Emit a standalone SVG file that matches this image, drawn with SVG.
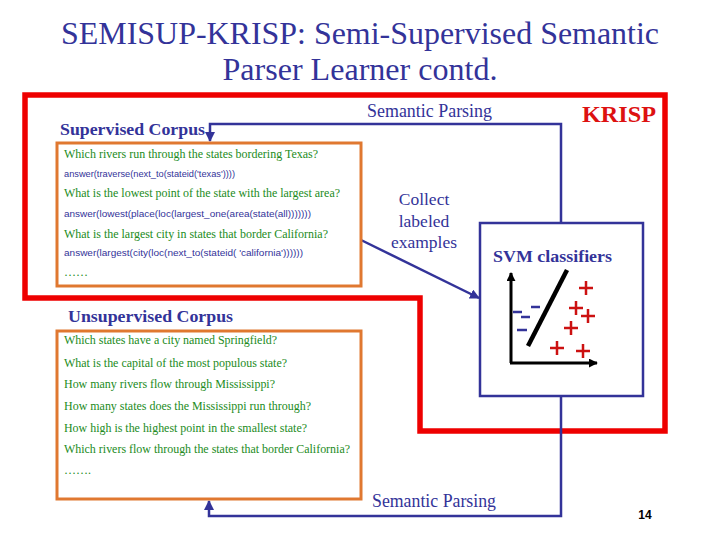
<svg xmlns="http://www.w3.org/2000/svg" width="720" height="540" viewBox="0 0 720 540">
<style>
.serif{font-family:"Liberation Serif","DejaVu Serif","Times New Roman",serif}
.title{font-size:32px;fill:#333399;text-anchor:middle}
.hd{font-size:17px;font-weight:bold;fill:#333399}
.lbl{font-size:18px;fill:#333399}
.col{font-size:17.5px;fill:#333399;text-anchor:middle}
.q{font-size:12px;fill:#228B22}
.lf{font-family:"Liberation Sans",sans-serif;font-size:9.5px;fill:#333399}
.blue{fill:none;stroke:#333399;stroke-width:2.5}
.orange{fill:none;stroke:#e07830;stroke-width:3}
.red{fill:none;stroke:#ee0000;stroke-width:5.5}
.ax{stroke:#000;stroke-width:3;fill:none}
.minus{stroke:#333399;stroke-width:2.5}
.plus{stroke:#cc1111;stroke-width:2.5}
</style>
<defs>
<marker id="ab" viewBox="0 0 10 10" refX="9" refY="5" markerWidth="4" markerHeight="4" orient="auto"><path d="M0,0 L10,5 L0,10 z" fill="#333399"/></marker>
<marker id="ak" viewBox="0 0 10 10" refX="9" refY="5" markerWidth="3" markerHeight="3" orient="auto"><path d="M0,0 L10,5 L0,10 z" fill="#000"/></marker>
</defs>
<rect width="720" height="540" fill="#fff"/>
<text class="serif title" x="360" y="44" textLength="598" lengthAdjust="spacingAndGlyphs">SEMISUP-KRISP: Semi-Supervised Semantic</text>
<text class="serif title" x="360" y="80" textLength="275" lengthAdjust="spacingAndGlyphs">Parser Learner contd.</text>

<g id="krisp">
<polygon class="red" points="25,95 665,95 665,431 420,431 420,298 25,298"/>
<text class="serif" x="582" y="122" font-size="24" font-weight="bold" fill="#dd1111" textLength="74" lengthAdjust="spacingAndGlyphs">KRISP</text>
</g>

<g id="connectors">
<polyline class="blue" points="561,223 561,124 210,124 210,141" marker-end="url(#ab)"/>
<polyline class="blue" points="561,396 561,516 209,516 209,501" marker-end="url(#ab)"/>
<line class="blue" x1="361" y1="240" x2="479" y2="298" marker-end="url(#ab)"/>
<text class="serif lbl" x="367" y="117" textLength="125" lengthAdjust="spacingAndGlyphs">Semantic Parsing</text>
<text class="serif lbl" x="372" y="507" textLength="124" lengthAdjust="spacingAndGlyphs">Semantic Parsing</text>
<text class="serif col" x="424" y="205">Collect</text>
<text class="serif col" x="424" y="227">labeled</text>
<text class="serif col" x="424" y="248">examples</text>
</g>

<g id="supervised">
<text class="serif hd" x="60" y="135" textLength="145" lengthAdjust="spacingAndGlyphs">Supervised Corpus</text>
<rect class="orange" x="57" y="143" width="304" height="143"/>
<text class="serif q" x="64" y="158" textLength="254" lengthAdjust="spacingAndGlyphs">Which rivers run through the states bordering Texas?</text>
<text class="lf" x="64" y="177" textLength="171" lengthAdjust="spacingAndGlyphs">answer(traverse(next_to(stateid('texas'))))</text>
<text class="serif q" x="64" y="197" textLength="276" lengthAdjust="spacingAndGlyphs">What is the lowest point of the state with the largest area?</text>
<text class="lf" x="64" y="217" textLength="247" lengthAdjust="spacingAndGlyphs">answer(lowest(place(loc(largest_one(area(state(all)))))))</text>
<text class="serif q" x="64" y="238" textLength="264" lengthAdjust="spacingAndGlyphs">What is the largest city in states that border California?</text>
<text class="lf" x="64" y="256" textLength="239" lengthAdjust="spacingAndGlyphs">answer(largest(city(loc(next_to(stateid( 'california'))))))</text>
<text class="serif q" x="64" y="276">……</text>
</g>

<g id="unsupervised">
<text class="serif hd" x="68" y="322" textLength="165" lengthAdjust="spacingAndGlyphs">Unsupervised Corpus</text>
<rect class="orange" x="57" y="331" width="304" height="168"/>
<text class="serif q" x="64" y="344" textLength="213" lengthAdjust="spacingAndGlyphs">Which states have a city named Springfield?</text>
<text class="serif q" x="64" y="367" textLength="223" lengthAdjust="spacingAndGlyphs">What is the capital of the most populous state?</text>
<text class="serif q" x="64" y="388" textLength="211" lengthAdjust="spacingAndGlyphs">How many rivers flow through Mississippi?</text>
<text class="serif q" x="64" y="410" textLength="247" lengthAdjust="spacingAndGlyphs">How many states does the Mississippi run through?</text>
<text class="serif q" x="64" y="432" textLength="243" lengthAdjust="spacingAndGlyphs">How high is the highest point in the smallest state?</text>
<text class="serif q" x="64" y="453" textLength="286" lengthAdjust="spacingAndGlyphs">Which rivers flow through the states that border California?</text>
<text class="serif q" x="64" y="474">…….</text>
</g>

<g id="svm">
<rect class="blue" x="480" y="223" width="163" height="173"/>
<text class="serif" x="493" y="262" font-size="16" font-weight="bold" fill="#333399" textLength="119" lengthAdjust="spacingAndGlyphs">SVM classifiers</text>
<line class="ax" x1="511" y1="363" x2="511" y2="273" marker-end="url(#ak)"/>
<line class="ax" x1="510" y1="363" x2="597" y2="363" marker-end="url(#ak)"/>
<line x1="567" y1="270" x2="528" y2="346" stroke="#000" stroke-width="4.5"/>
<line class="minus" x1="513" y1="312" x2="522" y2="312"/>
<line class="minus" x1="521" y1="317" x2="530" y2="317"/>
<line class="minus" x1="531" y1="307" x2="540" y2="307"/>
<line class="minus" x1="517" y1="330" x2="527" y2="330"/>
<path class="plus" d="M579,288 h14 M586,281 v14 M569,308 h14 M576,301 v14 M581,316 h14 M588,309 v14 M564,328 h14 M571,321 v14 M550,348 h14 M557,341 v14 M576,351 h14 M583,344 v14"/>
</g>

<text x="645" y="519" font-family="Liberation Sans,sans-serif" font-size="12" font-weight="bold" fill="#000" text-anchor="middle">14</text>
</svg>
